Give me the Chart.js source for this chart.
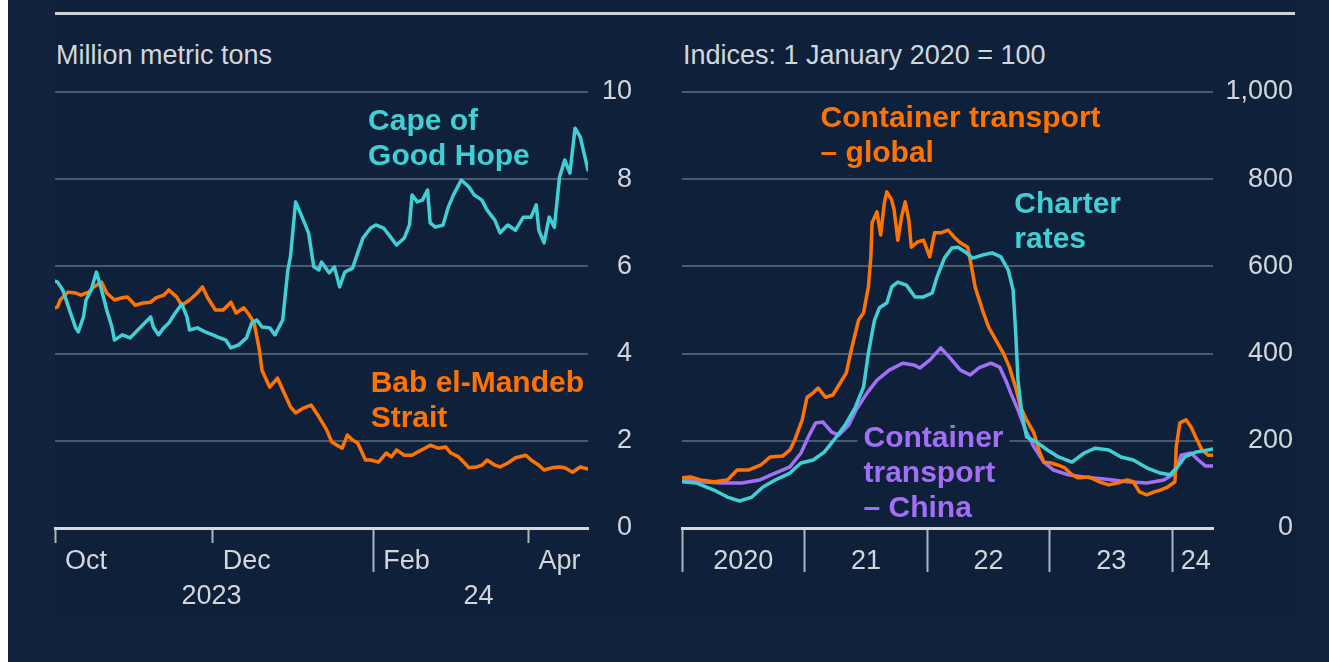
<!DOCTYPE html>
<html>
<head>
<meta charset="utf-8">
<script src="https://cdn.jsdelivr.net/npm/chart.js@4/dist/chart.umd.min.js"></script>
<style>
  html, body { margin: 0; padding: 0; }
  body { width: 1329px; height: 662px; background: #12243d; position: relative; overflow: hidden;
         font-family: "Liberation Sans", Arial, sans-serif; }
  #strip { position: absolute; left: 0; top: 0; width: 8px; height: 662px; background: #fff; }
  #panel { position: absolute; left: 55px; top: 0; width: 1241px; height: 615px; background: #0f213a; }
  #rule { position: absolute; left: 55px; top: 12px; width: 1240px; height: 3px; background: #cfd3d8; }
  .sub { position: absolute; top: 42px; font-size: 27px; line-height: 27px; color: #d3d6db; white-space: nowrap; }
  canvas { position: absolute; top: 40px; }
</style>
</head>
<body>
<div id="strip"></div>
<div id="panel"></div>
<div id="rule"></div>
<div class="sub" style="left:56px">Million metric tons</div>
<div class="sub" style="left:683px">Indices: 1 January 2020 = 100</div>
<canvas id="left" width="610" height="600" style="left:40px"></canvas>
<canvas id="right" width="650" height="600" style="left:660px"></canvas>
<script>
// left panel: million tonnes, x = days since 1 Oct 2023
const capeDays = [0, 1, 3, 6, 8, 9, 11, 12, 14, 16, 18, 20, 22, 23, 26, 29, 32, 34, 37, 38, 40, 42, 44, 46, 49, 51, 52, 55, 58, 61, 63, 66, 68, 71, 74, 76, 78, 80, 83, 85, 88, 90, 91, 93, 96, 98, 100, 102, 103, 106, 108, 110, 112, 115, 117, 119, 122, 124, 127, 130, 132, 135, 137, 138, 140, 142, 144, 145, 147, 150, 152, 154, 157, 160, 162, 165, 167, 170, 172, 175, 178, 181, 184, 186, 187, 189, 191, 193, 195, 197, 199, 201, 203, 206];
const capeTons = [5.66, 5.64, 5.46, 4.93, 4.59, 4.50, 4.84, 5.23, 5.46, 5.87, 5.46, 5.0, 4.61, 4.31, 4.43, 4.36, 4.54, 4.66, 4.84, 4.61, 4.43, 4.59, 4.70, 4.89, 5.14, 4.84, 4.54, 4.59, 4.50, 4.43, 4.38, 4.31, 4.13, 4.20, 4.36, 4.70, 4.77, 4.61, 4.59, 4.43, 4.77, 5.92, 6.22, 7.48, 7.06, 6.77, 5.99, 5.92, 6.10, 5.85, 5.99, 5.53, 5.87, 5.96, 6.31, 6.65, 6.88, 6.95, 6.88, 6.65, 6.49, 6.65, 6.95, 7.64, 7.48, 7.52, 7.75, 7.0, 6.9, 6.95, 7.36, 7.64, 7.98, 7.82, 7.64, 7.52, 7.29, 7.06, 6.77, 6.95, 6.83, 7.13, 7.13, 7.41, 6.83, 6.54, 7.13, 6.9, 8.05, 8.44, 8.14, 9.17, 8.97, 8.21];
const babDays = [0, 1, 2, 5, 8, 10, 13, 15, 18, 20, 23, 26, 28, 31, 34, 37, 39, 42, 44, 47, 49, 52, 55, 57, 59, 62, 65, 68, 70, 73, 75, 77, 79, 80, 83, 86, 88, 91, 93, 96, 99, 102, 105, 107, 109, 111, 113, 115, 117, 120, 122, 125, 128, 130, 132, 135, 138, 140, 143, 145, 148, 151, 153, 156, 158, 160, 163, 165, 167, 170, 172, 175, 178, 182, 184, 187, 189, 192, 195, 197, 200, 203, 206];
const babTons = [5.05, 5.07, 5.23, 5.41, 5.39, 5.34, 5.41, 5.53, 5.64, 5.39, 5.23, 5.28, 5.30, 5.11, 5.16, 5.18, 5.28, 5.34, 5.46, 5.30, 5.11, 5.23, 5.39, 5.53, 5.28, 5.0, 5.0, 5.18, 4.93, 5.05, 4.89, 4.70, 4.08, 3.62, 3.23, 3.44, 3.17, 2.78, 2.64, 2.75, 2.82, 2.55, 2.25, 1.97, 1.90, 1.83, 2.13, 2.02, 1.95, 1.56, 1.56, 1.51, 1.72, 1.63, 1.79, 1.67, 1.67, 1.74, 1.83, 1.90, 1.83, 1.86, 1.72, 1.63, 1.51, 1.38, 1.40, 1.44, 1.56, 1.44, 1.40, 1.49, 1.61, 1.67, 1.56, 1.44, 1.33, 1.38, 1.40, 1.38, 1.28, 1.40, 1.35];
const monthTickDays = [0, 61, 123, 183];
const monthTickLabels = ['Oct', 'Dec', 'Feb', 'Apr'];
const yearBreakDays = [123];
const yearLabelDays = [45, 154];
const yearLabels = ['2023', '24'];

// right panel: indices, 1 Jan 2020 = 100, x = decimal year
const globalYears = [2020.00, 2020.07, 2020.15, 2020.26, 2020.37, 2020.45, 2020.54, 2020.64, 2020.72, 2020.82, 2020.88, 2020.92, 2020.98, 2021.02, 2021.07, 2021.11, 2021.17, 2021.23, 2021.28, 2021.34, 2021.38, 2021.44, 2021.48, 2021.52, 2021.54, 2021.55, 2021.59, 2021.62, 2021.65, 2021.67, 2021.71, 2021.73, 2021.76, 2021.79, 2021.82, 2021.85, 2021.87, 2021.92, 2021.97, 2022.02, 2022.06, 2022.11, 2022.17, 2022.22, 2022.27, 2022.33, 2022.37, 2022.39, 2022.45, 2022.50, 2022.56, 2022.62, 2022.67, 2022.72, 2022.76, 2022.81, 2022.87, 2022.91, 2022.95, 2023.01, 2023.07, 2023.12, 2023.18, 2023.23, 2023.32, 2023.40, 2023.48, 2023.55, 2023.63, 2023.68, 2023.73, 2023.79, 2023.85, 2023.90, 2023.96, 2024.02, 2024.03, 2024.06, 2024.11, 2024.15, 2024.20, 2024.24, 2024.29, 2024.33];
const globalIndex = [115, 117, 110, 106, 110, 133, 133, 144, 163, 165, 179, 202, 248, 300, 310, 321, 300, 305, 328, 356, 408, 477, 493, 553, 622, 700, 725, 672, 745, 771, 752, 729, 660, 713, 748, 706, 644, 656, 660, 622, 677, 677, 683, 667, 654, 644, 585, 553, 500, 461, 431, 401, 369, 323, 278, 248, 218, 179, 151, 149, 144, 138, 122, 115, 117, 106, 99, 103, 110, 106, 83, 76, 83, 87, 94, 106, 186, 241, 248, 232, 202, 179, 167, 167];
const charterYears = [2020.00, 2020.12, 2020.26, 2020.37, 2020.47, 2020.57, 2020.66, 2020.76, 2020.88, 2020.97, 2021.07, 2021.16, 2021.24, 2021.33, 2021.41, 2021.48, 2021.52, 2021.57, 2021.61, 2021.67, 2021.71, 2021.76, 2021.83, 2021.90, 2021.97, 2022.04, 2022.08, 2022.14, 2022.20, 2022.25, 2022.31, 2022.37, 2022.45, 2022.53, 2022.60, 2022.66, 2022.70, 2022.72, 2022.74, 2022.77, 2022.81, 2022.89, 2022.98, 2023.07, 2023.18, 2023.28, 2023.37, 2023.48, 2023.58, 2023.68, 2023.79, 2023.90, 2023.98, 2024.04, 2024.10, 2024.19, 2024.29, 2024.33];
const charterIndex = [106, 103, 87, 71, 62, 71, 94, 110, 126, 149, 156, 174, 202, 236, 275, 323, 401, 477, 505, 516, 553, 564, 557, 530, 530, 539, 576, 619, 642, 644, 633, 619, 626, 631, 622, 592, 546, 454, 339, 264, 209, 197, 179, 163, 151, 172, 183, 179, 163, 156, 138, 126, 122, 140, 163, 174, 179, 181];
const chinaYears = [2020.00, 2020.15, 2020.32, 2020.49, 2020.63, 2020.76, 2020.88, 2020.97, 2021.03, 2021.09, 2021.15, 2021.22, 2021.28, 2021.36, 2021.42, 2021.51, 2021.59, 2021.69, 2021.80, 2021.89, 2021.94, 2022.02, 2022.11, 2022.18, 2022.27, 2022.35, 2022.42, 2022.52, 2022.59, 2022.64, 2022.68, 2022.74, 2022.80, 2022.87, 2022.95, 2023.03, 2023.15, 2023.28, 2023.46, 2023.63, 2023.79, 2023.93, 2024.02, 2024.07, 2024.15, 2024.21, 2024.27, 2024.33];
const chinaIndex = [110, 106, 103, 103, 110, 126, 140, 172, 209, 241, 243, 220, 213, 236, 271, 310, 339, 362, 378, 374, 367, 385, 413, 392, 362, 351, 367, 378, 369, 339, 310, 271, 225, 186, 151, 133, 122, 117, 112, 106, 103, 110, 126, 167, 172, 156, 142, 142];
const yearTicks = [2020, 2021, 2022, 2023, 2024];
const yearTickLabelAt = [2020.5, 2021.5, 2022.5, 2023.5, 2024.19];
const yearTickLabels = ['2020', '21', '22', '23', '24'];

const CYAN = '#3fcfd5', ORANGE = '#ff7400', PURPLE = '#a36ff7';
const TEXT = '#d3d6db', GRID = '#4b5a6e', AXIS = '#d5d9de', TICK = '#aeb5bd', BG = '#0f213a';

Chart.defaults.font.family = '"Liberation Sans", Arial, sans-serif';

function pts(xs, ys) {
  return xs.map((x, i) => ({ x: x, y: ys[i] }));
}

function line(data, color) {
  return { data: data, borderColor: color, borderWidth: 3.5, pointRadius: 0, tension: 0,
           borderJoinStyle: 'round', borderCapStyle: 'round', fill: false };
}

function xAxis(min, max, ticks, align, offset) {
  return {
    type: 'linear', min: min, max: max,
    afterBuildTicks: s => { s.ticks = ticks.slice().sort((a, b) => a.value - b.value).map(t => Object.assign({}, t)); },
    afterFit: s => { s.height = 112; },
    ticks: { autoSkip: false, maxRotation: 0, minRotation: 0, align: align, labelOffset: offset, padding: -28,
             color: TEXT, font: { size: 27, lineHeight: 1.3 },
             callback: (v, i, arr) => arr[i].text },
    grid: { drawOnChartArea: false, tickLength: 44, tickWidth: 2,
            tickColor: c => (c.tick && c.tick.mark) ? TICK : 'rgba(0,0,0,0)',
            tickBorderDash: c => (c.tick && c.tick.long) ? [] : [13, 100] },
    border: { display: true, color: AXIS, width: 3 }
  };
}

// labels are right-aligned on the outer edge of the axis box, so width sets where they end
function yAxis(max, step, width, fmt) {
  return {
    type: 'linear', position: 'right', min: 0, max: max,
    afterFit: s => { s.width = width; },
    ticks: { stepSize: step, padding: 10, crossAlign: 'far', color: TEXT, font: { size: 27 }, callback: fmt },
    grid: { drawTicks: false, lineWidth: 2, color: c => (c.tick && c.tick.value === 0) ? 'rgba(0,0,0,0)' : GRID },
    border: { display: false }
  };
}

// text labels next to the lines, anchored in data units (first baseline, left edge)
function notes(items) {
  return {
    id: 'notes',
    beforeDatasetsDraw(chart) {
      const { ctx, scales: { x, y } } = chart;
      items.filter(n => n.box).forEach(n => {
        ctx.save();
        ctx.font = 'bold 30px "Liberation Sans", Arial, sans-serif';
        const w = Math.max(...n.lines.map(t => ctx.measureText(t).width));
        const px = x.getPixelForValue(n.x), py = y.getPixelForValue(n.y);
        ctx.fillStyle = BG;
        ctx.fillRect(px - 6, py - 26, w + 12, 35 * (n.lines.length - 1) + 32);
        ctx.restore();
      });
    },
    afterDatasetsDraw(chart) {
      const { ctx, scales: { x, y } } = chart;
      items.forEach(n => {
        const px = x.getPixelForValue(n.x), py = y.getPixelForValue(n.y);
        ctx.save();
        ctx.font = 'bold 30px "Liberation Sans", Arial, sans-serif';
        ctx.fillStyle = n.color;
        ctx.textBaseline = 'alphabetic';
        n.lines.forEach((t, i) => ctx.fillText(t, px, py + i * 35));
        ctx.restore();
      });
    }
  };
}

const leftTicks = monthTickDays.map((d, i) => ({ value: d, text: monthTickLabels[i], mark: true, long: yearBreakDays.includes(d) }))
  .concat(yearLabelDays.map((d, i) => ({ value: d, text: ['', yearLabels[i]], mark: false, long: false })));

new Chart(document.getElementById('left'), {
  type: 'line',
  data: { datasets: [line(pts(capeDays, capeTons), CYAN), line(pts(babDays, babTons), ORANGE)] },
  options: {
    responsive: false, animation: false,
    layout: { padding: { left: 15, top: 52, right: 18, bottom: 0 } },
    plugins: { legend: { display: false }, tooltip: { enabled: false } },
    scales: {
      x: xAxis(0, 206, leftTicks, 'start', 10),
      y: yAxis(10, 2, 44, v => v)
    }
  },
  plugins: [notes([
    { x: 121, y: 9.13, lines: ['Cape of', 'Good Hope'], color: CYAN },
    { x: 122, y: 3.12, lines: ['Bab el-Mandeb', 'Strait'], color: ORANGE }
  ])]
});

const rightTicks = yearTicks.map(v => ({ value: v, text: '', mark: true, long: true }))
  .concat(yearTickLabelAt.map((v, i) => ({ value: v, text: yearTickLabels[i], mark: false, long: false })));

new Chart(document.getElementById('right'), {
  type: 'line',
  data: { datasets: [line(pts(charterYears, charterIndex), CYAN), line(pts(globalYears, globalIndex), ORANGE),
                     line(pts(chinaYears, chinaIndex), PURPLE)] },
  options: {
    responsive: false, animation: false,
    layout: { padding: { left: 22, top: 52, right: 17, bottom: 0 } },
    plugins: { legend: { display: false }, tooltip: { enabled: false } },
    scales: {
      x: xAxis(2020, 2024.33, rightTicks, 'center', 0),
      y: yAxis(1000, 200, 80, v => v.toLocaleString('en-US'))
    }
  },
  plugins: [notes([
    { x: 2021.13, y: 920, lines: ['Container transport', '\u2013 global'], color: ORANGE },
    { x: 2022.71, y: 722, lines: ['Charter', 'rates'], color: CYAN },
    { x: 2021.48, y: 186, lines: ['Container', 'transport', '\u2013 China'], color: PURPLE, box: true }
  ])]
});
</script>
</body>
</html>
